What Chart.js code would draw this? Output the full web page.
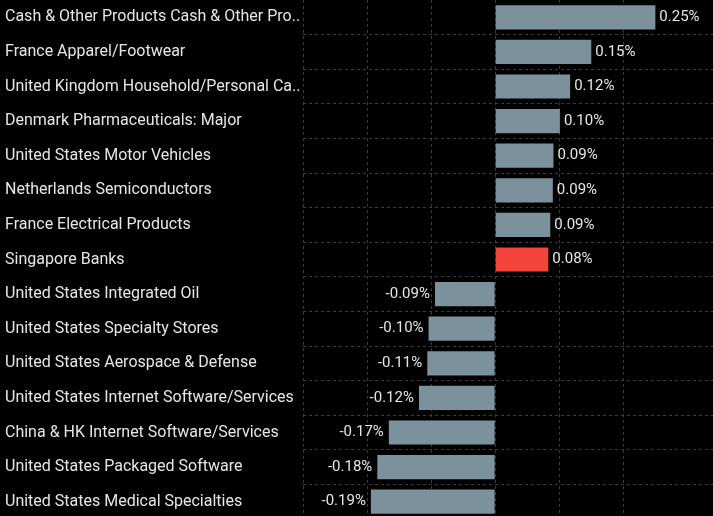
<!DOCTYPE html>
<html>
<head>
<meta charset="utf-8">
<script src="https://cdn.jsdelivr.net/npm/chart.js@4/dist/chart.umd.min.js"></script>
<style>
  html, body { margin: 0; padding: 0; background: #000; overflow: hidden; }
  #wrap { width: 713px; height: 519px; position: relative; }
</style>
</head>
<body>
<div id="wrap"><canvas id="perfChart"></canvas></div>
<script>
const categories = [
  "Cash & Other Products Cash & Other Pro..",
  "France Apparel/Footwear",
  "United Kingdom Household/Personal Ca..",
  "Denmark Pharmaceuticals: Major",
  "United States Motor Vehicles",
  "Netherlands Semiconductors",
  "France Electrical Products",
  "Singapore Banks",
  "United States Integrated Oil",
  "United States Specialty Stores",
  "United States Aerospace & Defense",
  "United States Internet Software/Services",
  "China & HK Internet Software/Services",
  "United States Packaged Software",
  "United States Medical Specialties"
];
const values = [0.25, 0.15, 0.117, 0.101, 0.091, 0.09, 0.086, 0.083, -0.094, -0.104, -0.106, -0.119, -0.166, -0.184, -0.194];
const highlighted = ["Singapore Banks"];

const barColor = "#7b919c";
const highlightColor = "#f5443b";
const textColor = "#e6e6e6";
const gridColor = "#3c3c3c";

// value labels at the end of each bar
const barLabels = {
  id: "barLabels",
  afterDatasetsDraw(chart) {
    const { ctx } = chart;
    const meta = chart.getDatasetMeta(0);
    ctx.save();
    ctx.font = "15px Roboto";
    ctx.fillStyle = textColor;
    ctx.textBaseline = "middle";
    meta.data.forEach((bar, i) => {
      const v = values[i];
      const txt = v.toFixed(2) + "%";
      if (v >= 0) {
        ctx.textAlign = "left";
        ctx.fillText(txt, bar.x + 4, bar.y);
      } else {
        ctx.textAlign = "right";
        ctx.fillText(txt, bar.x - 5, bar.y);
      }
    });
    ctx.restore();
  },
};

document.addEventListener("DOMContentLoaded", () => {
  const ctx = document.getElementById("perfChart").getContext("2d");

  new Chart(ctx, {
    type: "bar",
    data: {
      labels: categories,
      datasets: [
        {
          data: values,
          backgroundColor: categories.map((c) => (highlighted.includes(c) ? highlightColor : barColor)),
          categoryPercentage: 1,
          barPercentage: 0.7,
        },
      ],
    },
    options: {
      indexAxis: "y",
      responsive: true,
      maintainAspectRatio: false,
      animation: false,
      layout: { padding: { left: 5, top: 0, right: 0, bottom: 0 } },
      plugins: {
        legend: { display: false },
        tooltip: { enabled: false },
      },
      scales: {
        x: {
          min: -0.3,
          max: 0.34,
          afterFit: (scale) => { scale.height = 0; },
          ticks: { display: false, stepSize: 0.1 },
          grid: {
            color: gridColor,
            drawTicks: false,
          },
          border: { display: false, dash: [3, 3] },
        },
        y: {
          afterFit: (scale) => {
            scale.width = 298;
            scale.paddingTop = 0;
            scale.paddingBottom = 0;
          },
          border: { display: false, dash: [3, 3] },
          grid: {
            color: gridColor,
            drawTicks: false,
          },
          ticks: {
            crossAlign: "far",
            padding: 0,
            color: textColor,
            font: { family: "Roboto", size: 16 },
          },
        },
      },
    },
    plugins: [barLabels],
  });
});
</script>
</body>
</html>
